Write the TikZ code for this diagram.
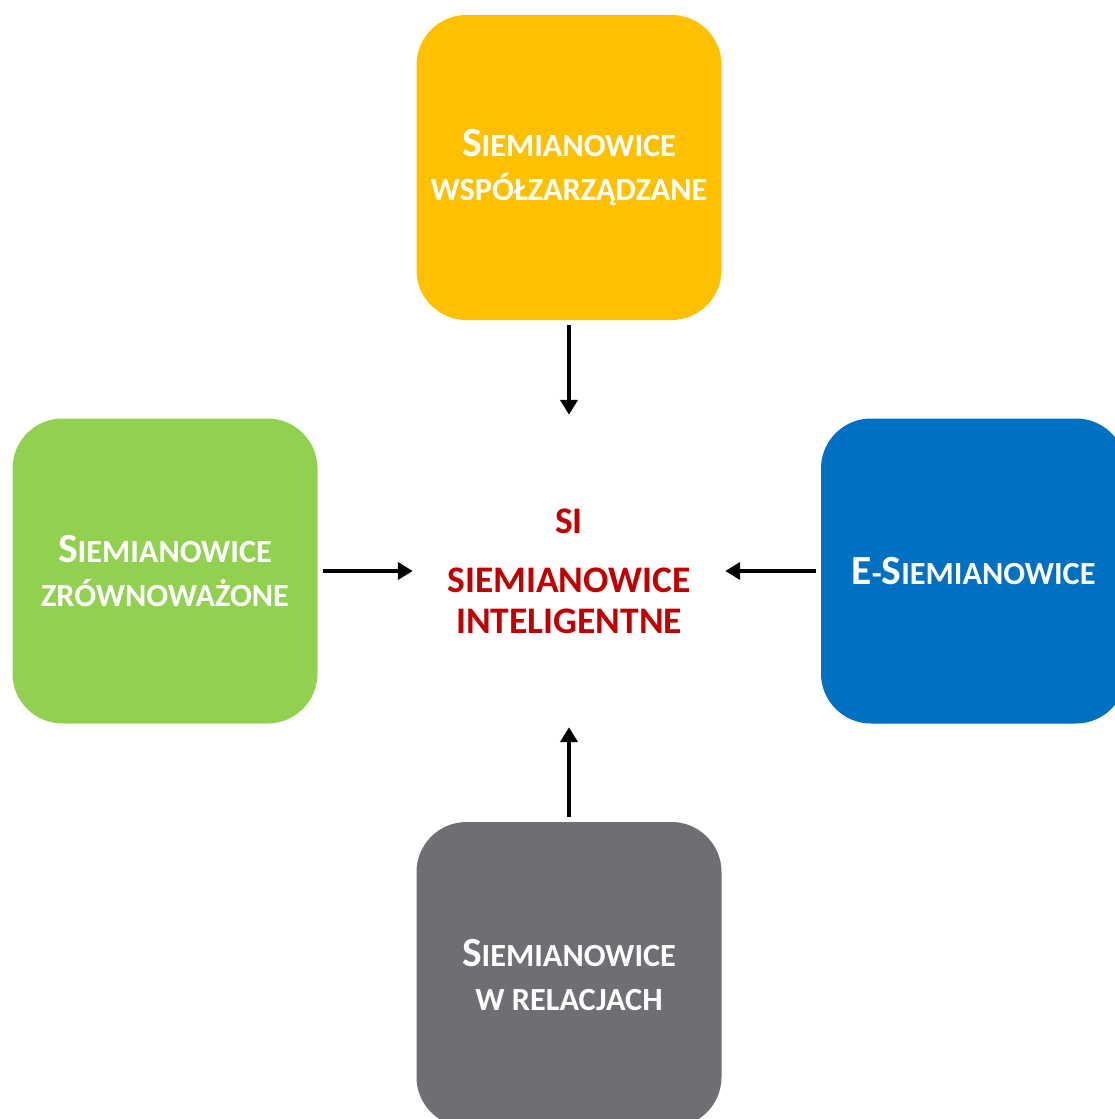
\documentclass[tikz,border=0pt]{standalone}
\usepackage{fontspec}
\setmainfont{Carlito}
\usetikzlibrary{arrows.meta}
\definecolor{cyellow}{HTML}{FFC000}
\definecolor{cgreen}{HTML}{92D050}
\definecolor{cblue}{HTML}{0070C0}
\definecolor{cgray}{HTML}{6F6E73}
\definecolor{cred}{HTML}{C00000}
\newcommand\capbig[1]{{\fontsize{41.5}{44}\selectfont #1}}
\tikzset{
  box/.style={rounded corners=50pt, minimum width=305pt, minimum height=305pt,
    inner sep=0pt, draw=none, text=white, align=center,
    font=\bfseries\fontsize{32.3}{44}\selectfont},
  hub/.style={minimum width=312pt, minimum height=312pt, inner sep=0pt,
    text=cred, align=center, font=\bfseries\fontsize{37.5}{41}\selectfont},
  arr/.style={line width=4pt, -{Triangle[length=15pt,width=17pt]}, shorten <=5pt}
}
\begin{document}
\begin{tikzpicture}[x=1pt,y=-1pt]
\useasboundingbox (0,0) rectangle (1115,1119);
\node[box, fill=cyellow] (top) at (569,167.5) {\capbig{S}IEMIANOWICE\\WSPÓŁZARZĄDZANE};
\node[box, fill=cgreen] (left) at (165,571) {\capbig{S}IEMIANOWICE\\ZRÓWNOWAŻONE};
\node[box, fill=cblue] (right) at (973.5,571) {\capbig{E}-\capbig{S}IEMIANOWICE};
\node[box, fill=cgray] (bottom) at (569,974.5) {\capbig{S}IEMIANOWICE\\W RELACJACH};
\node[hub] (hub) at (569,571) {SI\\[18pt]SIEMIANOWICE\\INTELIGENTNE};
\draw[arr] (top.south) -- (hub.north);
\draw[arr] (left.east) -- (hub.west);
\draw[arr] (right.west) -- (hub.east);
\draw[arr] (bottom.north) -- (hub.south);
\end{tikzpicture}
\end{document}
